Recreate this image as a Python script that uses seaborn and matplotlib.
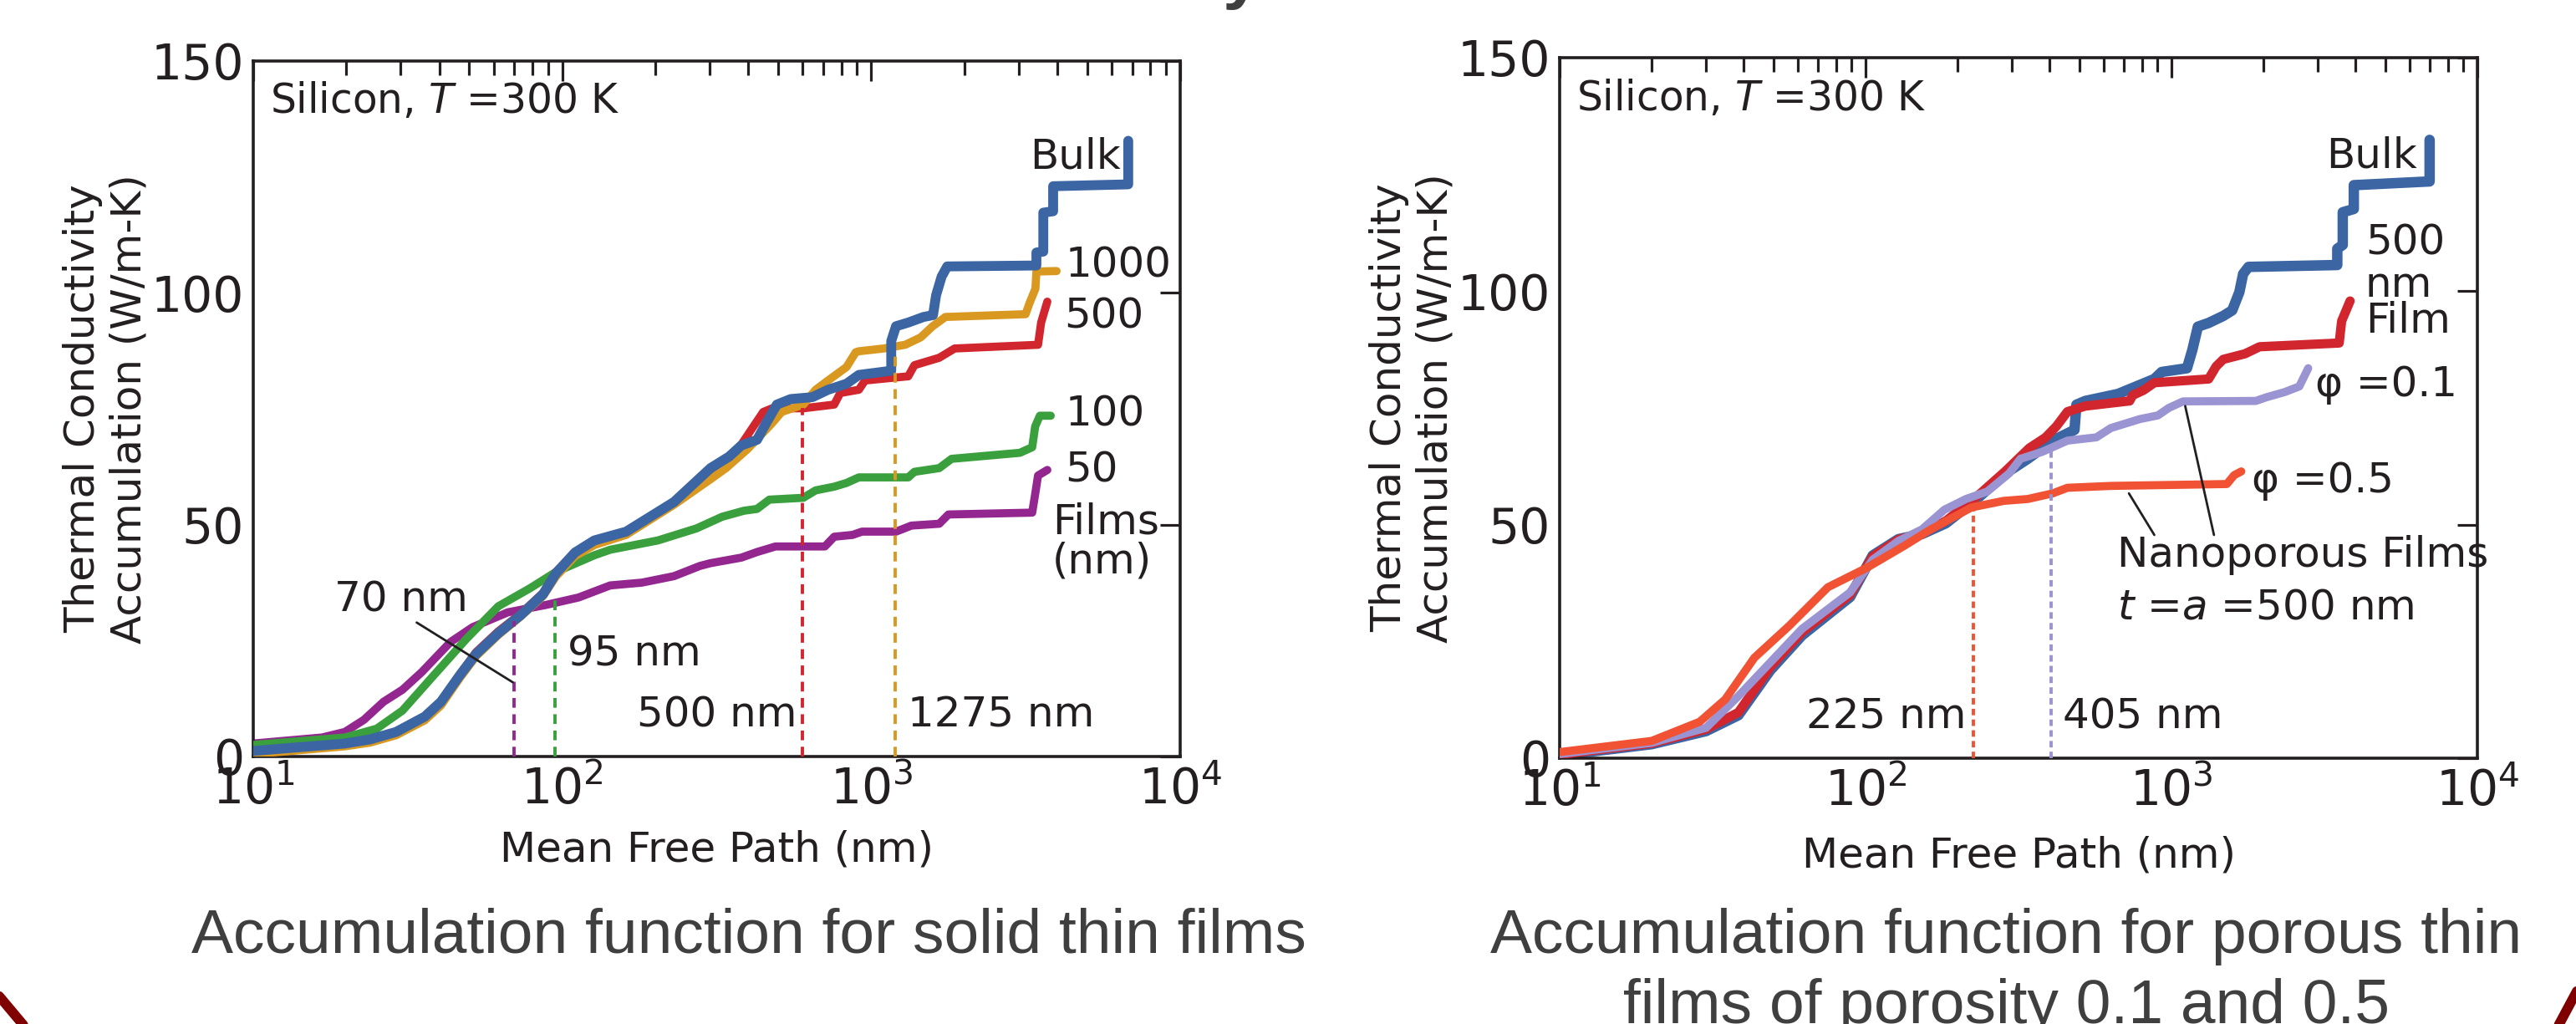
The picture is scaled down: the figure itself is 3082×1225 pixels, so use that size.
import numpy as np
import pandas as pd
import seaborn as sns
import matplotlib.pyplot as plt
from matplotlib.ticker import LogLocator, NullLocator, FixedLocator
from matplotlib.lines import Line2D

# ---- data: left panel (solid thin films) ----
bulk_l_mfp = [10, 19.8, 23.9, 29, 35.9, 40.5, 46.7, 52.6, 62.1, 73.4, 86.7, 95.4, 110, 127, 161, 230,
              302, 347, 380, 427, 457, 495, 549, 645, 725, 832, 912, 1161, 1161, 1203, 1318, 1477,
              1585, 1622, 1690, 1762, 3425, 3425, 3606, 3606, 3880, 3880, 6790, 6790]
bulk_l_k = [1.2, 2.8, 3.7, 5.3, 8.6, 11.8, 17.6, 22.1, 26.6, 30.5, 35.0, 39.5, 44.0, 46.6, 48.5, 54.9,
            62.2, 64.7, 67.1, 68.3, 71.9, 75.9, 77.1, 77.5, 79.1, 80.4, 82.3, 83.2, 89.6, 92.8, 93.6, 94.8,
            95.2, 99.5, 103.5, 105.7, 105.9, 108.7, 108.9, 117.3, 117.6, 123.0, 123.4, 132.8]

f1000_mfp = [10, 19.8, 23.9, 29, 35.9, 40.5, 46.7, 52.6, 62.1, 73.4, 86.7, 95.4, 110, 127, 161, 230,
             302, 339, 398, 478, 513, 603, 661, 725, 832, 891, 912, 1097, 1288, 1446, 1581, 1738,
             3160, 3250, 3400, 3425, 3981]
f1000_k = [0.5, 2.2, 3.0, 4.6, 7.8, 11.0, 17.0, 21.6, 26.2, 30.2, 34.6, 38.8, 43.2, 45.6, 47.8, 54.3,
           59.8, 62.2, 66.3, 71.9, 74.3, 75.9, 79.1, 81.1, 84.0, 87.2, 87.4, 88.0, 88.8, 90.4, 92.8, 94.8,
           95.4, 97.7, 100.9, 104.6, 104.7]

f500_mfp = [10, 19.8, 23.9, 29, 35.9, 40.5, 46.7, 52.6, 62.1, 73.4, 86.7, 95.4, 110, 127, 161, 230,
            302, 347, 380, 447, 478, 603, 759, 794, 912, 955, 1318, 1380, 1660, 1862, 3467, 3548, 3715]
f500_k = [0.8, 2.5, 3.4, 5.0, 8.4, 11.8, 17.8, 22.5, 27.0, 30.8, 35.3, 39.8, 44.0, 46.4, 48.3, 55.0,
          61.4, 64.6, 67.3, 74.3, 75.1, 75.1, 75.9, 78.4, 79.1, 81.1, 82.0, 84.4, 86.0, 88.0, 88.8, 93.6, 98.1]

f100_mfp = [10, 19.8, 25.1, 30.4, 38.5, 49, 62.1, 78.7, 95.4, 127, 143, 204, 272, 329, 387, 427, 468,
            603, 661, 759, 832, 912, 1318, 1380, 1660, 1820, 3027, 3319, 3394, 3515, 3811]
f100_k = [2.5, 4.1, 6.0, 9.9, 17.6, 25.4, 32.4, 36.3, 39.8, 43.4, 44.6, 46.6, 49.2, 51.7, 53.0, 53.4, 55.4,
          55.8, 57.4, 58.2, 59.0, 60.2, 60.2, 61.4, 62.2, 64.2, 65.5, 66.7, 71.2, 73.5, 73.5]

f50_mfp = [10, 16.7, 19.8, 22.8, 26.4, 30.4, 35.1, 43.5, 51.3, 66.7, 88.7, 113, 143, 181, 230, 279, 302,
           380, 427, 490, 708, 759, 871, 933, 1203, 1349, 1660, 1778, 3319, 3394, 3467, 3715]
f50_k = [2.8, 4.1, 5.3, 7.9, 11.8, 14.4, 18.2, 24.7, 27.9, 31.1, 32.7, 34.3, 36.9, 37.5, 38.9, 41.1, 41.7,
         42.9, 44.1, 45.3, 45.3, 47.4, 47.8, 48.5, 48.5, 49.8, 50.2, 52.2, 52.6, 56.6, 60.6, 61.8]

# ---- data: right panel (porous thin films) ----
bulk_r_mfp = [10, 20, 30.1, 38.4, 48.8, 62, 89, 105.5, 128, 153, 183, 231, 287, 339, 409, 482, 489, 523,
              669, 767, 879, 929, 1124, 1170, 1220, 1323, 1477, 1580, 1667, 1715, 1786, 3484, 3484, 3630,
              3630, 3945, 3945, 6980, 6980]
bulk_r_k = [0.6, 3.0, 5.8, 9.2, 18.8, 26.3, 34.5, 43.4, 46.9, 48.0, 50.3, 55.5, 61.0, 64.1, 68.0, 70.3,
            75.7, 76.5, 78.0, 79.6, 81.2, 82.7, 83.5, 87.4, 92.4, 93.2, 94.7, 95.9, 99.8, 103.7, 105.2,
            105.6, 109.1, 109.9, 116.9, 117.6, 122.7, 123.5, 132.4]

film_r_mfp = [10, 20, 30.1, 38.4, 48.8, 62, 89, 105.5, 128, 153, 183, 231, 287, 343, 388, 421, 457, 523,
              730, 747, 811, 879, 1323, 1400, 1477, 1740, 1941, 3534, 3600, 3836]
film_r_k = [0.8, 3.2, 6.2, 9.8, 19.5, 27.0, 35.0, 43.2, 46.8, 48.2, 50.8, 56.0, 61.5, 66.4, 68.7, 71.1,
            74.2, 75.4, 76.5, 77.7, 78.8, 80.4, 81.2, 83.9, 85.4, 86.6, 88.1, 88.9, 93.6, 97.9]

phi01_mfp = [10, 20, 30.1, 38.4, 48.8, 62, 89, 105.5, 128, 153, 181, 213, 250, 295, 321, 378, 457, 568,
             634, 787, 903, 980, 1091, 1887, 2047, 2346, 2617, 2799]
phi01_k = [0.9, 3.3, 6.5, 13.3, 20.5, 27.7, 35.5, 42.5, 46.5, 49.0, 53.2, 55.5, 57.1, 61.0, 64.1, 65.6,
           68.0, 68.7, 70.7, 72.6, 73.4, 75.0, 76.4, 76.5, 77.3, 78.4, 79.6, 83.5]

phi05_mfp = [10, 20, 28.7, 34.8, 43.3, 56.4, 75.3, 100.5, 134, 162.5, 222, 283, 339, 409, 457, 634, 1517,
             1603, 1691]
phi05_k = [1.3, 3.7, 7.8, 12.6, 21.5, 28.4, 36.6, 40.7, 45.5, 48.9, 53.7, 55.1, 55.5, 56.7, 57.9, 58.3,
           58.7, 60.6, 61.4]

# cut-off markers (mfp, height)
cut_l_mfp = [70, 95, 598, 1197]
cut_l_k = [29.2, 35.0, 75.1, 87.6]
cut_r_mfp = [225, 404]
cut_r_k = [54.4, 65.7]

BLUE, ORANGE, RED = "#3b65a3", "#d9981f", "#d2262f"
GREEN, PURPLE = "#3a9f3d", "#93278f"
LAVENDER, TOMATO = "#9b94d3", "#f05233"
INK = "#231f20"

sns.set_style("white")
plt.rcParams["font.family"] = ["DejaVu Sans"]
plt.rcParams["mathtext.fontset"] = "dejavusans"

fig = plt.figure(figsize=(30.82, 12.25), dpi=100)
ax1 = fig.add_axes([303 / 3082, 1 - 905 / 1225, 1109 / 3082, 832 / 1225])
ax2 = fig.add_axes([1866 / 3082, 1 - 907 / 1225, 1098 / 3082, 838 / 1225])


def draw(ax, x, y, color, lw, z):
    df = pd.DataFrame({"mfp": x, "k": y})
    sns.lineplot(data=df, x="mfp", y="k", ax=ax, color=color, lw=lw, sort=False,
                 estimator=None, solid_capstyle="round", solid_joinstyle="round", zorder=z)


draw(ax1, f50_mfp, f50_k, PURPLE, 7, 2)
draw(ax1, f100_mfp, f100_k, GREEN, 7, 3)
draw(ax1, f500_mfp, f500_k, RED, 7, 4)
draw(ax1, f1000_mfp, f1000_k, ORANGE, 7, 5)
draw(ax1, bulk_l_mfp, bulk_l_k, BLUE, 8.5, 6)

draw(ax2, bulk_r_mfp, bulk_r_k, BLUE, 9, 2)
draw(ax2, film_r_mfp, film_r_k, RED, 8, 3)
draw(ax2, phi01_mfp, phi01_k, LAVENDER, 7, 4)
draw(ax2, phi05_mfp, phi05_k, TOMATO, 7, 5)

for xv, top, c in zip(cut_l_mfp, cut_l_k, [PURPLE, GREEN, RED, ORANGE]):
    ax1.plot([xv, xv], [0, top], color=c, lw=2.8, dashes=(3, 2), zorder=8)
for xv, top, c in zip(cut_r_mfp, cut_r_k, [TOMATO, LAVENDER]):
    ax2.plot([xv, xv], [0, top], color=c, lw=2.8, dashes=(2, 1.3), zorder=8)

for ax in (ax1, ax2):
    ax.set_xscale("log")
    ax.set_xlim(10, 1e4)
    ax.set_ylim(0, 150)
    ax.yaxis.set_major_locator(FixedLocator([0, 50, 100, 150]))
    ax.yaxis.set_minor_locator(NullLocator())
    ax.xaxis.set_major_locator(LogLocator(base=10))
    ax.xaxis.set_minor_locator(LogLocator(base=10, subs=np.arange(2, 10)))
    ax.tick_params(which="major", direction="in", length=17, width=2.3, top=True, right=True,
                   labelsize=42, colors=INK, pad=8)
    ax.tick_params(which="minor", direction="in", length=12, width=2.3, top=True, right=True,
                   colors=INK)
    for s in ax.spines.values():
        s.set_linewidth(2.6)
        s.set_color(INK)
        s.set_visible(True)
    ax.set_xlabel("Mean Free Path (nm)", fontsize=36, color=INK)
    ax.set_ylabel("Thermal Conductivity\nAccumulation (W/m-K)", fontsize=36, color=INK)
    ax.text(11.35, 141.3, "Silicon, $T$ =300 K", fontsize=35, color=INK, va="center", ha="left")

ax1.xaxis.set_label_coords(0.5, -0.105)
ax1.yaxis.set_label_coords(-0.112, 0.5)
ax2.xaxis.set_label_coords(0.5, -0.11)
ax2.yaxis.set_label_coords(-0.113, 0.5)

# left annotations
kw = dict(fontsize=36, color=INK, va="center")
ax1.text(6412, 129.4, "Bulk", ha="right", **kw)
ax1.text(4250, 106.0, "1000", ha="left", **kw)
ax1.text(4220, 94.9, "500", ha="left", **kw)
ax1.text(4245, 73.9, "100", ha="left", **kw)
ax1.text(4230, 61.8, "50", ha="left", **kw)
ax1.text(3855, 50.6, "Films", ha="left", **kw)
ax1.text(3855, 42.1, "(nm)", ha="left", **kw)
ax1.text(18.3, 33.8, "70 nm", ha="left", **kw)
ax1.text(104, 22.1, "95 nm", ha="left", **kw)
ax1.text(575, 9.0, "500 nm", ha="right", **kw)
ax1.text(1310, 9.0, "1275 nm", ha="left", **kw)
ax1.plot([33.8, 69.2], [28.9, 16.0], color=INK, lw=2.0, zorder=9)

# right annotations
ax2.text(6350, 128.9, "Bulk", ha="right", **kw)
ax2.text(4300, 110.3, "500", ha="left", **kw)
ax2.text(4300, 101.3, "nm", ha="left", **kw)
ax2.text(4300, 93.6, "Film", ha="left", **kw)
ax2.text(2950, 80.0, "φ =0.1", ha="left", **kw)
ax2.text(1830, 59.4, "φ =0.5", ha="left", **kw)
ax2.text(665, 43.5, "Nanoporous Films", ha="left", **kw)
ax2.text(665, 32.3, "$t$ =$a$ =500 nm", ha="left", **kw)
ax2.text(214, 8.8, "225 nm", ha="right", **kw)
ax2.text(440, 8.8, "405 nm", ha="left", **kw)
ax2.plot([879, 726], [47.8, 56.7], color=INK, lw=2.0, zorder=9)
ax2.plot([1377, 1109], [47.8, 75.4], color=INK, lw=2.0, zorder=9)

# captions
cap = dict(fontsize=54, color="#3f3f3f", family="Liberation Sans", ha="center", va="baseline")
fig.text(896 / 3082, 1 - 1140 / 1225, "Accumulation function for solid thin films", **cap)
fig.text(2400 / 3082, 1 - 1140 / 1225, "Accumulation function for porous thin", **cap)
fig.text(2400 / 3082, 1 - 1224 / 1225, "films of porosity 0.1 and 0.5", **cap)
# bottom of cut-off slide title
fig.text(1485 / 3082, 1 + 5 / 1225, "y", fontsize=60, fontweight="bold", color="#3f3f3f",
         family="Liberation Sans", ha="center", va="baseline")

# slide frame corners
W, H = 3082, 1225
fig.add_artist(Line2D([-10 / W, 37 / W], [1 - 1181 / H, 1 - 1237 / H], transform=fig.transFigure,
                      color="#800000", lw=8.5))
fig.add_artist(Line2D([3092 / W, 3055 / W], [1 - 1169 / H, 1 - 1238 / H], transform=fig.transFigure,
                      color="#800000", lw=8.5))

fig.savefig("out.png", dpi=100)
plt.close(fig)
